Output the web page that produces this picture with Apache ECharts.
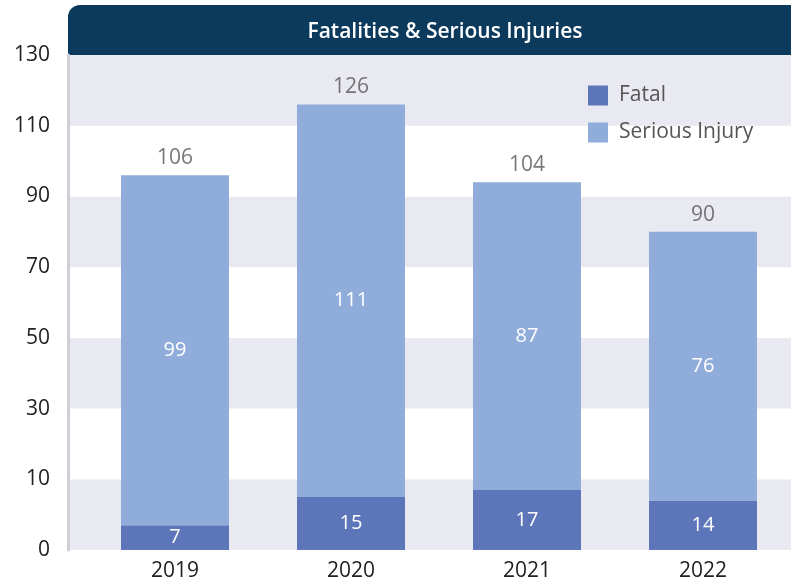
<!DOCTYPE html>
<html>
<head>
<meta charset="utf-8">
<script src="https://cdn.jsdelivr.net/npm/echarts@6/dist/echarts.min.js"></script>
<style>html,body{margin:0;padding:0;background:#fff}#c{width:791px;height:585px}</style>
</head>
<body>
<div id="c"></div>
<script>
var years = ['2019', '2020', '2021', '2022'];
var fatal = [7, 15, 17, 14];
var serious = [99, 111, 87, 76];
var totals = [106, 126, 104, 90];
var yTickLabels = ['0', '10', '30', '50', '70', '90', '110', '130'];
var titleText = 'Fatalities & Serious Injuries';

var FONT = '"Open Sans", "Noto Sans", sans-serif';
var chart = echarts.init(document.getElementById('c'), null, {renderer: 'canvas'});
var yCommon = {
  type: 'value', min: 0, max: 140, interval: 20
};
chart.setOption({
  animation: false,
  backgroundColor: '#ffffff',
  title: {
    text: titleText, left: 440, top: 17, textAlign: 'center',
    textStyle: {color: '#ffffff', fontSize: 21, fontWeight: 600, fontFamily: FONT}
  },
  graphic: [{
    type: 'rect', z: -1, left: 68, top: 5,
    shape: {width: 740, height: 50, r: [12, 0, 0, 0]},
    style: {fill: '#0c3a5d'}
  }],
  legend: {
    data: ['Fatal', 'Serious Injury'], orient: 'vertical', left: 583, top: 80,
    icon: 'rect', itemWidth: 20, itemHeight: 20, itemGap: 16,
    textStyle: {color: '#555555', fontSize: 21, fontFamily: FONT, padding: [0, 0, 0, 6]}
  },
  grid: [
    {left: 68, right: 0, top: 55, bottom: 35},
    {left: 87, right: 0, top: 55, bottom: 35}
  ],
  xAxis: [
    {type: 'category', gridIndex: 0, data: years, show: false},
    {type: 'category', gridIndex: 1, data: years,
     axisLine: {show: false}, axisTick: {show: false},
     axisLabel: {color: '#222222', fontSize: 21, fontFamily: FONT, margin: 11}}
  ],
  yAxis: [
    Object.assign({}, yCommon, {
      gridIndex: 0,
      axisLine: {show: true, lineStyle: {color: '#cfd0d6', width: 3}},
      axisTick: {show: false},
      splitLine: {show: false},
      splitArea: {show: true, areaStyle: {color: ['#e8e9f1', '#ffffff']}},
      axisLabel: {color: '#222222', fontSize: 21, fontFamily: FONT, margin: 18,
        padding: [0, 0, 6, 0],
        formatter: function (v) { return yTickLabels[Math.round(v / 20)]; }}
    }),
    Object.assign({}, yCommon, {
      gridIndex: 1, show: false, splitLine: {show: false}
    })
  ],
  series: [
    {name: 'Fatal', type: 'bar', stack: 'a', xAxisIndex: 1, yAxisIndex: 1,
     barWidth: 108, data: fatal,
     itemStyle: {color: '#5c76b9'},
     label: {show: true, position: 'inside', color: '#ffffff', fontSize: 20, fontFamily: FONT}},
    {name: 'Serious Injury', type: 'bar', stack: 'a', xAxisIndex: 1, yAxisIndex: 1,
     barWidth: 108, data: serious,
     itemStyle: {color: '#8facda'},
     label: {show: true, position: 'inside', color: '#ffffff', fontSize: 20, fontFamily: FONT}},
    {name: 'Total', type: 'scatter', xAxisIndex: 1, yAxisIndex: 1,
     data: totals, symbolSize: 1, itemStyle: {color: 'rgba(0,0,0,0)'},
     label: {show: true, position: 'top', distance: 6, color: '#555555', fontSize: 21, fontFamily: FONT},
     silent: true}
  ]
});
</script>
</body>
</html>
